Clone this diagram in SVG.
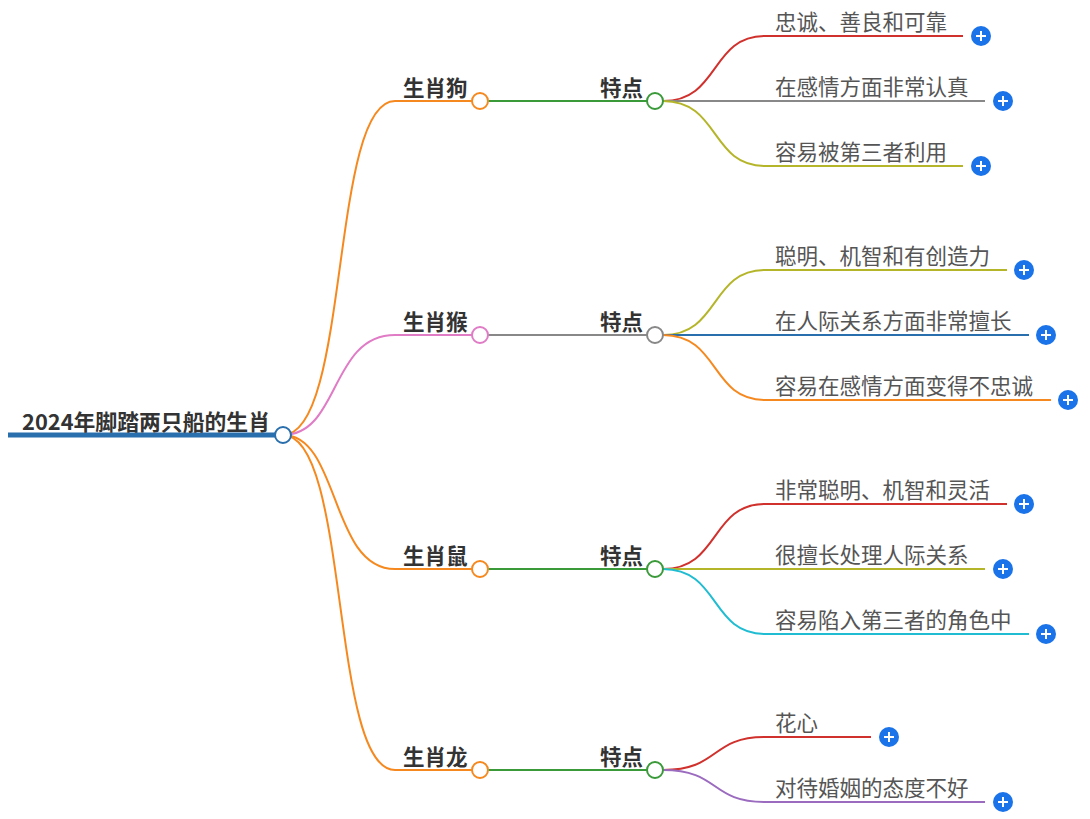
<svg xmlns="http://www.w3.org/2000/svg" width="1090" height="819" viewBox="0 0 1090 819">
<style>
.t{font-family:"Noto Sans CJK SC","Liberation Sans",sans-serif;}
.b{font-weight:bold;font-size:21.5px;fill:#333}
.l{font-size:21.5px;fill:#555}
.c{fill:none;stroke-width:2}
.n{fill:#fff;stroke-width:2}
.p{fill:#1a73e8}
.pl{stroke:#fff;stroke-width:2}
</style>
<defs>
<g id="plus"><circle class="p" r="10"/><path class="pl" d="M-5 0H5M0-5V5"/></g>
</defs>
<g id="connectors">
<path d="M8 435H275" stroke="#2a6fad" stroke-width="5" fill="none"/>
<path class="c" stroke="#f5891f" d="M283 435C350 435 330 101 395 101H472"/>
<path class="c" stroke="#e07bc6" d="M283 435C340 435 330 335 395 335H472"/>
<path class="c" stroke="#f5891f" d="M283 435C340 435 330 569 395 569H472"/>
<path class="c" stroke="#f5891f" d="M283 435C350 435 330 770 395 770H472"/>
<path class="c" stroke="#3a9a3a" d="M488 101H647"/>
<path class="c" stroke="#888" d="M488 335H647"/>
<path class="c" stroke="#3a9a3a" d="M488 569H647"/>
<path class="c" stroke="#3a9a3a" d="M488 770H647"/>
<path class="c" stroke="#d0312d" d="M663 101C720 101 710 36 765 36H963"/>
<path class="c" stroke="#888" d="M663 101H985"/>
<path class="c" stroke="#b5b52a" d="M663 101C720 101 710 166 765 166H963"/>
<path class="c" stroke="#b5b52a" d="M663 335C720 335 710 270 765 270H1007"/>
<path class="c" stroke="#2a6fad" d="M663 335H1029"/>
<path class="c" stroke="#f5891f" d="M663 335C720 335 710 400 765 400H1051"/>
<path class="c" stroke="#d0312d" d="M663 569C720 569 710 504 765 504H1007"/>
<path class="c" stroke="#b5b52a" d="M663 569H985"/>
<path class="c" stroke="#1fbcd2" d="M663 569C720 569 710 634 765 634H1029"/>
<path class="c" stroke="#d0312d" d="M663 770C720 770 710 737 765 737H871"/>
<path class="c" stroke="#9b6bbf" d="M663 770C720 770 710 802 765 802H985"/>
</g>
<g id="root"><circle class="n" cx="283" cy="435" r="8" stroke="#2a6fad"/><text class="t b" x="22" y="430" textLength="248" lengthAdjust="spacingAndGlyphs">2024年脚踏两只船的生肖</text></g>
<g id="dog"><circle class="n" cx="480" cy="101" r="8" stroke="#f5891f"/><text class="t b" x="403" y="96">生肖狗</text></g>
<g id="monkey"><circle class="n" cx="480" cy="335" r="8" stroke="#e07bc6"/><text class="t b" x="403" y="330">生肖猴</text></g>
<g id="rat"><circle class="n" cx="480" cy="569" r="8" stroke="#f5891f"/><text class="t b" x="403" y="564">生肖鼠</text></g>
<g id="dragon"><circle class="n" cx="480" cy="770" r="8" stroke="#f5891f"/><text class="t b" x="403" y="765">生肖龙</text></g>
<g id="f1"><circle class="n" cx="655" cy="101" r="8" stroke="#3a9a3a"/><text class="t b" x="600" y="96">特点</text></g>
<g id="f2"><circle class="n" cx="655" cy="335" r="8" stroke="#888"/><text class="t b" x="600" y="330">特点</text></g>
<g id="f3"><circle class="n" cx="655" cy="569" r="8" stroke="#3a9a3a"/><text class="t b" x="600" y="564">特点</text></g>
<g id="f4"><circle class="n" cx="655" cy="770" r="8" stroke="#3a9a3a"/><text class="t b" x="600" y="765">特点</text></g>
<g id="l1"><text class="t l" x="775" y="30">忠诚、善良和可靠</text><use href="#plus" x="981" y="36"/></g>
<g id="l2"><text class="t l" x="775" y="95">在感情方面非常认真</text><use href="#plus" x="1003" y="101"/></g>
<g id="l3"><text class="t l" x="775" y="160">容易被第三者利用</text><use href="#plus" x="981" y="166"/></g>
<g id="l4"><text class="t l" x="775" y="264">聪明、机智和有创造力</text><use href="#plus" x="1024" y="270"/></g>
<g id="l5"><text class="t l" x="775" y="329">在人际关系方面非常擅长</text><use href="#plus" x="1046" y="335"/></g>
<g id="l6"><text class="t l" x="775" y="394">容易在感情方面变得不忠诚</text><use href="#plus" x="1068" y="400"/></g>
<g id="l7"><text class="t l" x="775" y="498">非常聪明、机智和灵活</text><use href="#plus" x="1024" y="504"/></g>
<g id="l8"><text class="t l" x="775" y="563">很擅长处理人际关系</text><use href="#plus" x="1003" y="569"/></g>
<g id="l9"><text class="t l" x="775" y="628">容易陷入第三者的角色中</text><use href="#plus" x="1046" y="634"/></g>
<g id="l10"><text class="t l" x="775" y="731">花心</text><use href="#plus" x="889" y="737"/></g>
<g id="l11"><text class="t l" x="775" y="796">对待婚姻的态度不好</text><use href="#plus" x="1003" y="802"/></g>
</svg>
